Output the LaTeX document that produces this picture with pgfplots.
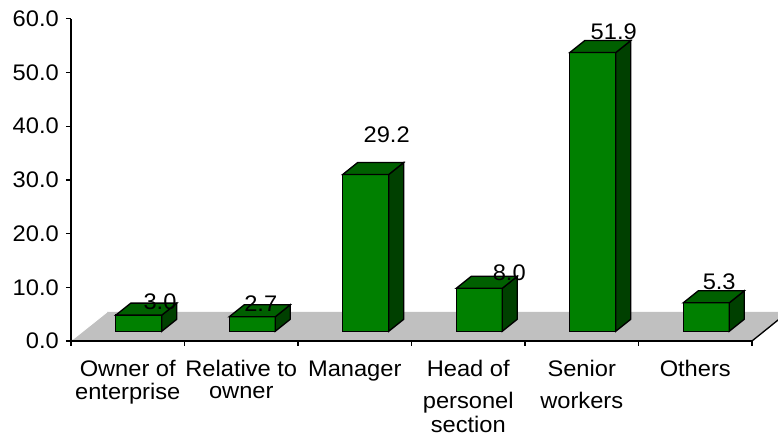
\documentclass[border=0pt]{standalone}
\usepackage{pgfplots}
\pgfplotsset{compat=1.18}
\usepackage{pgfplotstable}
\usepackage{fontspec}
\setmainfont{Liberation Sans}[FakeStretch=1.05]
\definecolor{barfront}{RGB}{0,128,0}
\definecolor{bartop}{RGB}{0,96,0}
\definecolor{barside}{RGB}{0,64,0}
\definecolor{floorgray}{RGB}{192,192,192}

\pgfplotstableread{
x v
0 3.0
1 2.7
2 29.2
3 8.0
4 51.9
5 5.3
}\datatable

% 3D top and side faces of a bar, drawn at the data point (category, value)
\pgfdeclareplotmark{box3d}{%
  \pgfmathsetmacro\hh{\barval*4.0275}%
  \pgfsetlinewidth{1pt}%
  \pgfsetstrokecolor{black}%
  \pgfsetmiterjoin
  \pgfsetfillcolor{barside}%
  \pgfpathmoveto{\pgfpoint{25.5pt}{7.3pt}}%
  \pgfpathlineto{\pgfpoint{36.75pt}{16.3pt}}%
  \pgfpathlineto{\pgfpoint{36.75pt}{16.3pt-\hh pt}}%
  \pgfpathlineto{\pgfpoint{25.5pt}{7.3pt-\hh pt}}%
  \pgfpathclose
  \pgfusepath{fill,stroke}%
  \pgfsetfillcolor{bartop}%
  \pgfpathmoveto{\pgfpoint{-9pt}{7.3pt}}%
  \pgfpathlineto{\pgfpoint{25.5pt}{7.3pt}}%
  \pgfpathlineto{\pgfpoint{36.75pt}{16.3pt}}%
  \pgfpathlineto{\pgfpoint{2.25pt}{16.3pt}}%
  \pgfpathclose
  \pgfusepath{fill,stroke}%
}

\begin{document}
\begin{tikzpicture}
\path[use as bounding box] (-53.25pt,-78pt) rectangle (530.25pt,255.75pt);
\begin{axis}[
  at={(0,0)}, anchor=south west,
  x=85.125pt, y=4.0275pt,
  xmin=-0.5, xmax=5.5, ymin=0, ymax=60,
  axis lines=left,
  axis line style={-, line width=1pt},
  axis on top,
  clip=false,
  tick align=outside,
  major tick length=3.75pt,
  tick style={black, line width=1pt},
  xtick={-0.5,0.5,...,5.5},
  xticklabels={},
  extra x ticks={0,1,2,3,4,5},
  extra x tick labels={
    {\begin{tabular}[t]{@{}c@{}}Owner of\\enterprise\end{tabular}},
    {\begin{tabular}[t]{@{}c@{}}Relative to\\owner\end{tabular}},
    {Manager},
    {\begin{tabular}[t]{@{}c@{}}Head of\\[7pt]personel\\section\end{tabular}},
    {\begin{tabular}[t]{@{}c@{}}Senior\\[7pt]workers\end{tabular}},
    {Others}},
  extra x tick style={major tick length=0pt, tick label style={anchor=base, yshift=-26.7pt}},
  x tick label style={font=\fontsize{16.9}{16.8}\selectfont},
  ytick={0,10,...,60},
  yticklabel style={xshift=-1.9pt, font=\fontsize{16.9}{16.8}\selectfont, /pgf/number format/.cd, fixed, fixed zerofill, precision=1, assume math mode=true},
]
% floor
\addplot[fill=floorgray, draw=none] coordinates {(-0.5,0) (-0.1828,5.40) (5.8172,5.40) (5.5,0)};
\addplot[white, line width=0.75pt] coordinates {(-0.482,0.37) (-0.183,5.40)};
\addplot[black, line width=1pt] coordinates {(5.5,0) (5.8172,5.40)};
% front faces
\addplot[ybar, bar width=34.5pt, bar shift=0pt, xshift=8.25pt, yshift=7.3pt,
  fill=barfront, draw=black, line width=1pt] table[x=x,y=v]{\datatable};
% top and side faces
\addplot[only marks, mark=box3d, visualization depends on={rawy \as \barval}]
  table[x=x,y=v]{\datatable};
% value labels
\addplot[draw=none, mark=none, nodes near coords, point meta=explicit symbolic,
  nodes near coords style={anchor=center, inner sep=0pt, text=black, font=\fontsize{16.9}{16.8}\selectfont}]
  coordinates {(0.284,7.32)[3.0] (1.172,7.02)[2.7] (2.281,38.49)[29.2] (3.361,12.70)[8.0] (4.282,57.54)[51.9] (5.211,11.04)[5.3]};
\end{axis}
\end{tikzpicture}
\end{document}
